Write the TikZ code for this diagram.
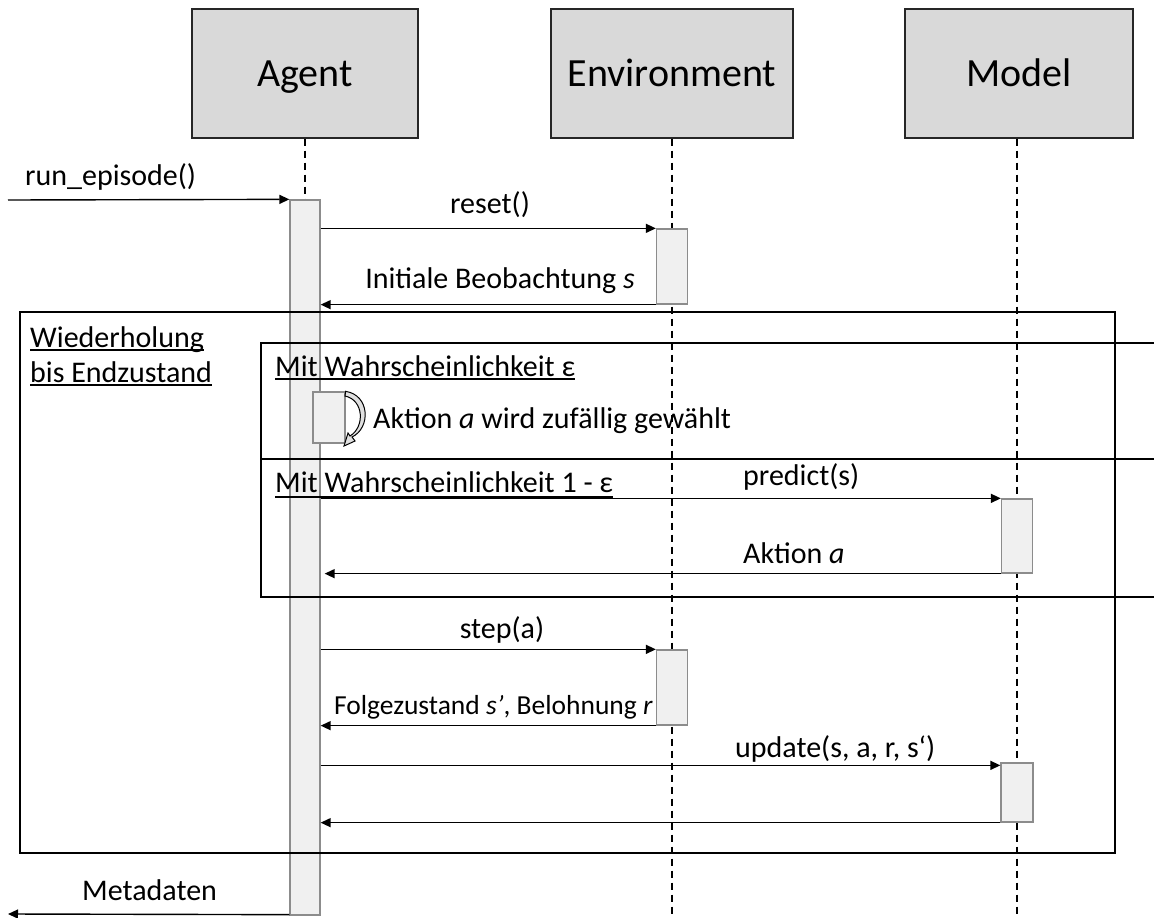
\documentclass[tikz,border=0pt]{standalone}
\usepackage{fontspec}
\setmainfont{Carlito}
\usetikzlibrary{arrows.meta,backgrounds}
\begin{document}
\begin{tikzpicture}[x=1pt,y=-1pt,
  head/.style={draw=black!85,line width=1.3pt,fill=black!15,minimum height=129pt,text height=25pt,text depth=0pt,inner sep=0pt,font=\fontsize{40}{48}\selectfont},
  act/.style={draw=black!45,line width=1.3pt,fill=black!6,inner sep=0pt},
  life/.style={line width=1.5pt,dash pattern=on 7pt off 5pt},
  msg/.style={line width=1.4pt,-{Triangle[length=10pt,width=9pt]}},
  lbl/.style={inner sep=0pt,font=\fontsize{30}{36}\selectfont},
  slbl/.style={inner sep=0pt,font=\fontsize{27.5}{32}\selectfont},
  frame/.style={line width=1.8pt},
  uline/.style={line width=1.3pt},
]
\useasboundingbox (0,0) rectangle (1154,918);
\coordinate (bottom) at (0,918);

% header boxes
\node[head,minimum width=226pt] (agent) at (305,73.5) {Agent};
\node[head,minimum width=242pt] (env) at (672,73.5) {Environment};
\node[head,minimum width=228pt] (model) at (1019,73.5) {Model};

% activations
\node[act,minimum width=30pt,minimum height=715pt] (agentact) at (305,557.5) {};
\node[act,minimum width=31pt,minimum height=75pt] (envact1) at (672,266.5) {};
\node[act,minimum width=32pt,minimum height=51pt] (selfact) at (329,417.5) {};
\node[act,minimum width=31pt,minimum height=74pt] (modact1) at (1017,536) {};
\node[act,minimum width=31pt,minimum height=75pt] (envact2) at (672,687.5) {};
\node[act,minimum width=32pt,minimum height=59pt] (modact2) at (1017,792.5) {};

% lifelines (behind activations)
\begin{scope}[on background layer]
\draw[life] (agent.south) -- (agentact.north);
\draw[life] (env.south) -- (env.south |- bottom);
\draw[life] (modact1 |- model.south) -- (modact1 |- bottom);
\end{scope}

% frames
\draw[frame] (20,312) rectangle (1115,853);
\draw[frame] (1154,343) -- (261,343) -- (261,597) -- (1154,597);
\draw[frame] (261,459) -- (1154,459);

% messages
\coordinate (rs) at (8,200);
\coordinate (md) at (8,914);
\draw[msg] (rs) -- (agentact.north west);
\draw[msg] (agentact.east |- envact1.north) -- (envact1.north west);
\draw[msg] (envact1.south west) -- (agentact.east |- envact1.south);
\draw[msg] (agentact.east |- modact1.north) -- (modact1.north west);
\draw[msg] (modact1.south west) -- ([xshift=4pt]agentact.east |- modact1.south);
\draw[msg] (agentact.east |- envact2.north) -- (envact2.north west);
\draw[msg] (envact2.south west) -- (agentact.east |- envact2.south);
\draw[msg] ([yshift=-3pt]agentact.east |- modact2.north) -- ([yshift=-3pt]modact2.north west);
\draw[msg] (modact2.south west) -- (agentact.east |- modact2.south);
\draw[msg] ([yshift=1pt]agentact.south west) -- (md);

% self message (block arrow)
\draw[line width=1pt,fill=black!12]
  (selfact.north east) .. controls (370,395) and (371,428) .. (352,437)
  -- (355,441) -- (344,446) -- (348,433) -- (350,436)
  .. controls (365,427) and (364,400) .. (345,396) -- cycle;

% labels
\node[lbl,anchor=base west] (l1) at (25,185) {run\_episode()};
\node[lbl,anchor=base] (l2) at (490,213) {reset()};
\node[lbl,anchor=base] (l3) at (500,288) {Initiale Beobachtung \textit{s}};
\node[lbl,anchor=base west] (w1) at (30,347) {Wiederholung};
\node[lbl,anchor=base west] (w2) at (30,382) {bis Endzustand};
\draw[uline] ([yshift=-3pt]w1.base west) -- ([yshift=-3pt]w1.base east);
\draw[uline] ([yshift=-3pt]w2.base west) -- ([yshift=-3pt]w2.base east);
\node[lbl,anchor=base west] (a1) at (275,376) {Mit Wahrscheinlichkeit ε};
\draw[uline] ([yshift=-3pt]a1.base west) -- ([yshift=-3pt]a1.base east);
\node[lbl,anchor=base west] (sl) at (373,428) {Aktion \textit{a} wird zufällig gewählt};
\node[lbl,anchor=base west] (a2) at (275,492) {Mit Wahrscheinlichkeit 1 - ε};
\draw[uline] ([yshift=-5pt]a2.base west) -- ([yshift=-5pt]a2.base east);
\node[lbl,anchor=base west] (l4) at (743,485) {predict(s)};
\node[lbl,anchor=base west] (l5) at (743,563) {Aktion \textit{a}};
\node[lbl,anchor=base] (l6) at (502,638) {step(a)};
\node[slbl,anchor=base east] (l7) at (653,714) {Folgezustand \textit{s’}, Belohnung \textit{r}};
\node[lbl,anchor=base west] (l8) at (735,757) {update(s, a, r, s‘)};
\node[lbl,anchor=base west] (l9) at (82,900) {Metadaten};
\end{tikzpicture}
\end{document}
